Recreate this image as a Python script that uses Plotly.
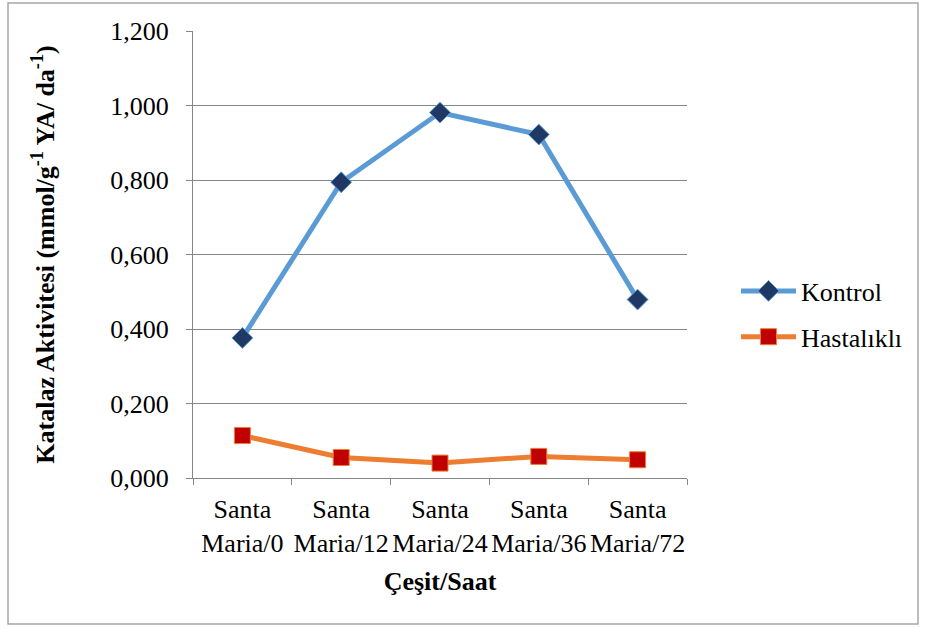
import plotly.graph_objects as go

# Sampling points (variety / hour)
categories = ["Santa<br>Maria/0", "Santa<br>Maria/12", "Santa<br>Maria/24",
              "Santa<br>Maria/36", "Santa<br>Maria/72"]
kontrol = [0.376, 0.794, 0.981, 0.922, 0.479]
hastalikli = [0.114, 0.055, 0.040, 0.058, 0.049]
y_ticks = [0, 0.2, 0.4, 0.6, 0.8, 1.0, 1.2]
y_tick_text = ["0,000", "0,200", "0,400", "0,600", "0,800", "1,000", "1,200"]

W, H = 925, 628
L, R, T, B = 193, 238, 31, 150
FONT = "Liberation Serif, Times New Roman, serif"
FS = 26

fig = go.Figure()
fig.add_trace(go.Scatter(
    x=categories, y=kontrol, name="Kontrol", mode="lines+markers",
    legendgroup="k",
    line=dict(color="#5B9BD5", width=5),
    marker=dict(symbol="diamond", size=16, color="#1F3864",
                line=dict(color="#5B9BD5", width=1)),
))
fig.add_trace(go.Scatter(
    x=categories, y=hastalikli, name="Hastalıklı", mode="lines+markers",
    legendgroup="h",
    line=dict(color="#ED7D31", width=5),
    marker=dict(symbol="square", size=16, color="#C00000",
                line=dict(color="#ED7D31", width=1)),
))

pw = W - L - R
ph = H - T - B
# outer chart frame, in paper coordinates
fig.add_shape(type="rect", xref="paper", yref="paper",
              x0=(8 - L) / pw, x1=(918 - L) / pw,
              y0=(H - B - 624) / ph, y1=(H - B - 3) / ph,
              line=dict(color="#A6A6A6", width=1.5), fillcolor="rgba(0,0,0,0)",
              layer="below")

fig.update_layout(
    width=W, height=H,
    margin=dict(l=L, r=R, t=T, b=B, autoexpand=False),
    paper_bgcolor="white", plot_bgcolor="white",
    font=dict(family=FONT, size=FS, color="black"),
    showlegend=True,
    legend=dict(x=(736 - L) / pw, xanchor="left", y=(H - B - 314) / ph, yanchor="middle",
                font=dict(family=FONT, size=FS), itemwidth=55,
                bgcolor="rgba(0,0,0,0)", tracegroupgap=9),
    xaxis=dict(
        type="category", range=[-0.5, len(categories) - 0.5],
        tickson="boundaries", ticks="outside", ticklen=6, tickangle=0,
        automargin=False,
        tickcolor="#868686", showline=True, linecolor="#868686", linewidth=1,
        showgrid=False, tickfont=dict(family=FONT, size=FS), ticklabelstandoff=8,
        title=dict(text="<b>Çeşit/Saat</b>", font=dict(family=FONT, size=FS),
                   standoff=14),
    ),
    yaxis=dict(
        range=[0, 1.2], tickvals=y_ticks, ticktext=y_tick_text,
        ticks="outside", ticklen=6, tickcolor="#868686", automargin=False,
        showline=True, linecolor="#868686", linewidth=1,
        showgrid=True, gridcolor="#868686", gridwidth=1, zeroline=False,
        tickfont=dict(family=FONT, size=FS), ticklabelstandoff=12,
        title=dict(text="<b>Katalaz Aktivitesi (mmol/g<sup>-1</sup> YA/ da<sup>-1</sup>)</b>",
                   font=dict(family=FONT, size=FS), standoff=48),
    ),
)

fig.write_html("out.html")
